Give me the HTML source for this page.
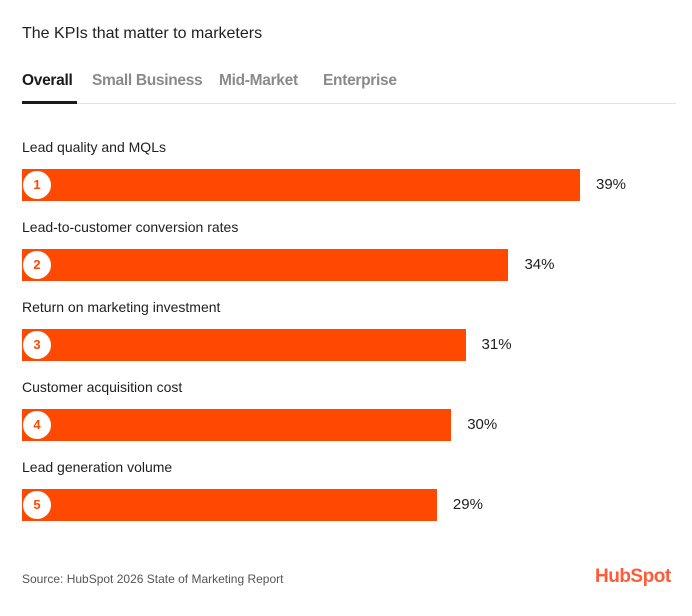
<!DOCTYPE html>
<html><head><meta charset="utf-8"><style>
body{margin:0;width:692px;height:616px;background:#fff;font-family:"Liberation Sans",sans-serif;position:relative;overflow:hidden;color:#1f1f1f}
.abs{position:absolute}
.tab{position:absolute;top:72px;font-size:15.5px;font-weight:bold;color:#8a8a8a;letter-spacing:-0.3px}
</style></head><body>
<div class="abs" style="left:22px;top:25px;font-size:16px">The KPIs that matter to marketers</div>
<div class="tab" style="left:22px;color:#1a1a1a">Overall</div>
<div class="tab" style="left:92px">Small Business</div>
<div class="tab" style="left:219px">Mid-Market</div>
<div class="tab" style="left:323px">Enterprise</div>
<div class="abs" style="left:22px;top:103px;width:654px;height:1px;background:#e2e2e2"></div>
<div class="abs" style="left:22px;top:101px;width:55px;height:3px;background:#1a1a1a"></div>
<div id="bars"></div>
<div class="abs" style="left:22px;top:572px;font-size:12px;color:#555">Source: HubSpot 2026 State of Marketing Report</div>
<div class="abs" style="left:595px;top:566px;font-size:19px;color:#ff5c35;font-weight:bold;letter-spacing:-0.5px">HubSpot</div>
<script>
const categories=["Lead quality and MQLs","Lead-to-customer conversion rates","Return on marketing investment","Customer acquisition cost","Lead generation volume"];
const values=[39,34,31,30,29];
const valueLabels=["39%","34%","31%","30%","29%"];
const x0=22, pxPer=(580-22)/39;
function xs(v){return x0+v*pxPer;}
const c=document.getElementById('bars');
categories.forEach((cat,i)=>{
  const top=136+i*80;
  const l=document.createElement('div');
  
  
  l.className='abs';l.style.cssText=`left:22px;top:${top+3}px;font-size:14px`;l.textContent=cat;c.appendChild(l);
  const b=document.createElement('div');
  
  
  b.className='abs';b.style.cssText=`left:${x0}px;top:${top+33}px;width:${xs(values[i])-x0}px;height:32px;background:#ff4800`;c.appendChild(b);
  const r=document.createElement('div');
  
  
  r.className='abs';r.style.cssText=`left:22px;top:${top+34}px;width:28px;height:28px;border:1px solid #ff4800;border-radius:50%;background:#fff;color:#ff4800;font-weight:bold;font-size:13px;text-align:center;line-height:28px`;r.textContent=i+1;c.appendChild(r);
  const v=document.createElement('div');
  
  
  v.className='abs';v.style.cssText=`left:${xs(values[i])+16}px;top:${top+40}px;font-size:15px`;v.textContent=valueLabels[i];c.appendChild(v);
});
</script>
</body></html>
